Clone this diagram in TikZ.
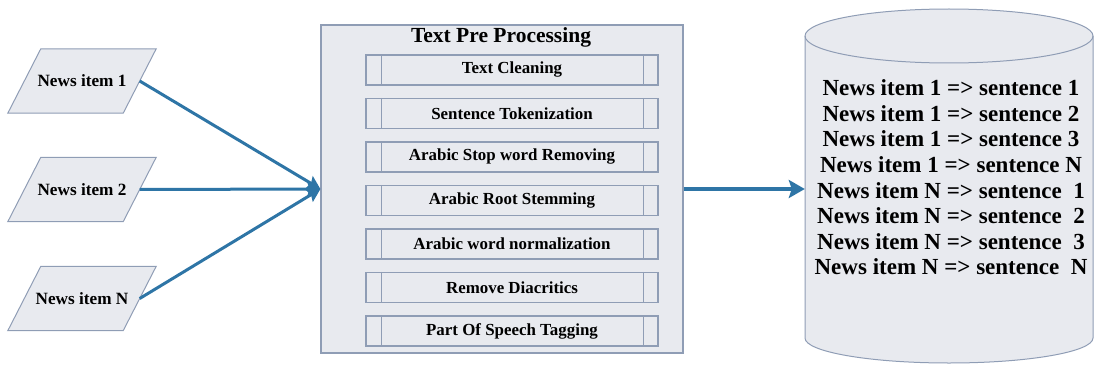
\documentclass[tikz,border=0pt]{standalone}
\usepackage{fontspec}
\setmainfont{Liberation Serif}
\usetikzlibrary{arrows.meta,calc,backgrounds}
\definecolor{boxfill}{RGB}{232,234,239}
\definecolor{boxline}{RGB}{143,157,181}
\definecolor{arrowblue}{RGB}{46,117,166}
\begin{document}
\begin{tikzpicture}[x=1pt,y=1pt,
 para/.style={fill=boxfill,draw=boxline,line width=1pt},
 paranode/.style={minimum width=115pt,minimum height=64pt,inner sep=0pt,font=\bfseries\fontsize{17.2}{20}\selectfont},
 mainbox/.style={fill=boxfill,draw=boxline,line width=1.2pt,minimum width=362pt,minimum height=328pt,inner sep=0pt},
 stepbox/.style={draw=boxline,line width=1.2pt,minimum width=292pt,minimum height=30pt,inner sep=0pt,font=\bfseries\fontsize{16.9}{18}\selectfont},
 stepline/.style={draw=boxline,line width=1.2pt},
 flow/.style={draw=arrowblue,line width=3pt,-{Stealth[length=13pt,width=14pt,inset=2pt]}},
 flowbig/.style={draw=arrowblue,line width=3.5pt,-{Stealth[length=16pt,width=18pt,inset=3pt]}},
 cylshape/.style={fill=boxfill,draw=boxline,line width=1pt},
]
\useasboundingbox (0,0) rectangle (1095,365);
% input parallelograms
\foreach \n/\y/\t in {p1/284/News item 1, p2/175.5/News item 2, pN/66.5/News item N} {
  \node[paranode] (\n) at (82,\y) {\t};
  \begin{scope}[on background layer]
    \draw[para] ($(\n.north west)+(16.5,0)$) -- ($(\n.north east)+(16.5,0)$)
      -- ($(\n.south east)-(16.5,0)$) -- ($(\n.south west)-(16.5,0)$) -- cycle;
  \end{scope}
}
% main box
\node[mainbox] (main) at (502,176) {};
\node[font=\bfseries\fontsize{21.5}{23}\selectfont] (title) at (501,327.5) {Text Pre Processing};
\foreach \i/\t in {0/Text Cleaning, 1/Sentence Tokenization, 2/Arabic Stop word Removing, 3/Arabic Root Stemming, 4/Arabic word normalization, 5/Remove Diacritics, 6/Part Of Speech Tagging} {
  \node[stepbox] (s\i) at (512,{295-43.5*\i}) {\t};
  \draw[stepline] ($(s\i.north west)+(16,0)$) -- ($(s\i.south west)+(16,0)$);
  \draw[stepline] ($(s\i.north east)-(15,0)$) -- ($(s\i.south east)-(15,0)$);
}
% cylinder
\node[minimum width=288pt,minimum height=355pt,inner sep=0pt] (cyl) at (949,179.5) {};
\filldraw[cylshape] (805,329) -- (805,27) arc[start angle=180,end angle=360,x radius=144,y radius=25]
  -- (1093,329) arc[start angle=0,end angle=180,x radius=144,y radius=27] -- cycle;
\draw[cylshape,fill=none] (805,329) arc[start angle=180,end angle=360,x radius=144,y radius=27];
\node[align=center,font=\bfseries\fontsize{23}{25.6}\selectfont] (db) at (951,187.5)
 {News item 1 => sentence 1\\News item 1 => sentence 2\\News item 1 => sentence 3\\News item 1 => sentence N\\
  News item N => sentence\ \ 1\\News item N => sentence\ \ 2\\News item N => sentence\ \ 3\\News item N => sentence\ \ N};
% connectors
\draw[flow] (p1.east) -- (main.west);
\draw[flow] (p2.east) -- (main.west);
\draw[flow] (pN.east) -- (main.west);
\draw[flowbig] (main.east) -- (main.east -| cyl.west);
\end{tikzpicture}
\end{document}
